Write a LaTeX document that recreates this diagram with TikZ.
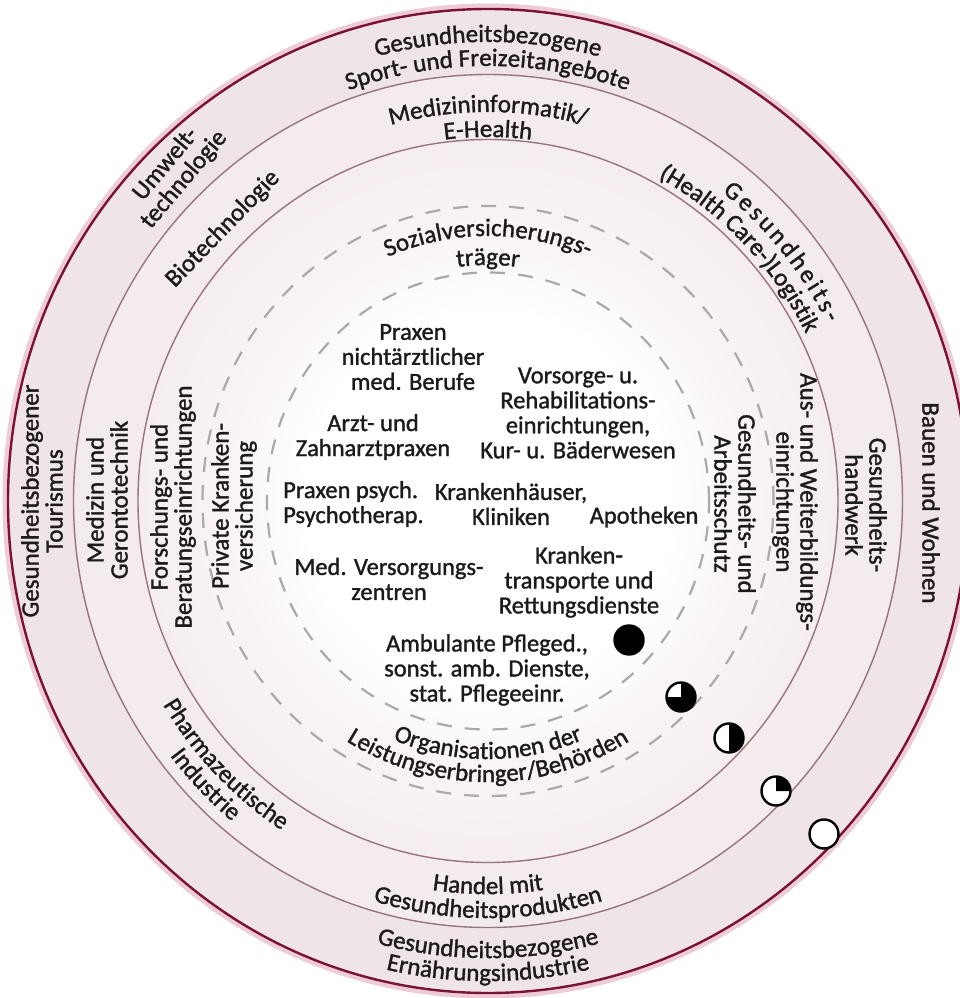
\documentclass[tikz,border=0pt]{standalone}
\usepackage{fontspec}
\setmainfont{Carlito}[FakeBold=1.3]
\usetikzlibrary{decorations.text}

\definecolor{ink}{RGB}{28,26,27}
\definecolor{bandA}{RGB}{239,228,230}
\definecolor{bandB}{RGB}{243,235,236}
\definecolor{bandC}{RGB}{246,238,238}
\definecolor{bandD}{RGB}{249,243,243}
\definecolor{rimred}{RGB}{122,18,52}
\definecolor{rimglow}{RGB}{226,170,185}
\definecolor{ringline}{RGB}{150,118,124}
\definecolor{dashgray}{RGB}{172,168,169}

% white core fading to pale pink towards the third ring
\pgfdeclareradialshading{coreshade}{\pgfpoint{0bp}{0bp}}{color(0bp)=(white); color(13bp)=(white); color(19bp)=(bandD); color(25bp)=(bandC); color(50bp)=(bandC)}

\newcommand\ringfont{\fontsize{25}{24}\selectfont}
\newcommand\corefont{\fontsize{24.5}{25}\selectfont}

% text running clockwise along an ellipse arc: radius, middle angle, text
\newcommand\overarc[3]{%
  \path[decorate,decoration={text along path,text align=center,
    text={|\ringfont\color{ink}|#3}}]
    ({#2+75}:{0.97*#1} and {#1}) arc[start angle={#2+75},end angle={#2-75},x radius={0.97*#1},y radius={#1}];}
% text running counterclockwise along an ellipse arc: radius, middle angle, text
\newcommand\underarc[3]{%
  \path[decorate,decoration={text along path,text align=center,
    text={|\ringfont\color{ink}|#3}}]
    ({#2-75}:{0.97*#1} and {#1}) arc[start angle={#2-75},end angle={#2+75},x radius={0.97*#1},y radius={#1}];}
% text spread over a given clockwise arc: radius, start angle, end angle, text
\newcommand\spreadarc[4]{%
  \path[decorate,decoration={text along path,text align={fit to path},
    text={|\ringfont\color{ink}|#4}}]
    (#2:{0.97*#1} and {#1}) arc[start angle=#2,end angle=#3,x radius={0.97*#1},y radius={#1}];}

\tikzset{
  core/.style={font=\corefont, text=ink, align=center, inner sep=0pt},
  ringlbl/.style={font=\ringfont, text=ink, align=center, inner sep=0pt},
  symb/.style={circle, draw=black, line width=2.4pt, minimum size=29pt, inner sep=0pt},
  midline/.style={draw=ringline, line width=1.4pt},
  dashring/.style={draw=dashgray, line width=2.2pt, dash pattern=on 15pt off 13pt}
}

\begin{document}
\begin{tikzpicture}[x=1pt,y=1pt]
\useasboundingbox (-488,-497) rectangle (471,501);
\fill[white] (-488,-497) rectangle (471,501);

% ring fills
\fill[bandA] (0,0) ellipse[x radius=480,y radius=492];
\fill[bandB] (0,0) ellipse[x radius=414.5,y radius=426.5];
\shade[shading=coreshade] (0,0) ellipse[x radius=350,y radius=361.5];

% ring borders
\draw[rimglow, line width=5pt, opacity=.6] (0,0) ellipse[x radius=483,y radius=495];
\draw[rimred, line width=2.4pt] (0,0) ellipse[x radius=480,y radius=492];
\draw[midline] (0,0) ellipse[x radius=414.5,y radius=426.5];
\draw[midline] (0,0) ellipse[x radius=350,y radius=361.5];
\draw[dashring] (0,0) ellipse[x radius=285.5,y radius=295];
\draw[dashring] (0,0) ellipse[x radius=221,y radius=228.5];

% curved ring labels
\overarc{459}{90}{Gesundheitsbezogene}
\overarc{435}{90}{Sport- und Freizeitangebote}
\overarc{389}{90}{Medizininformatik/}
\overarc{364}{90}{E-Health}
\overarc{265}{90}{Sozialversicherungs-}
\overarc{236}{90}{träger}
\spreadarc{392}{52}{27}{Gesundheits-}
\overarc{368}{45}{(Health Care-)Logistik}
\underarc{258}{270}{Organisationen der}
\underarc{281}{270}{Leistungserbringer/Behörden}
\underarc{393}{270}{Handel mit}
\underarc{417}{270}{Gesundheitsprodukten}
\underarc{457}{270}{Gesundheitsbezogene}
\underarc{480}{270}{Ernährungsindustrie}
\underarc{392}{225}{Pharmazeutische}
\underarc{415}{225}{Industrie}

% straight ring labels
\node[ringlbl, rotate=50] (umwelt) at (-313,329) {Umwelt-\\technologie};
\node[ringlbl, rotate=46] (biotech) at (-265,272) {Biotechnologie};
\node[ringlbl, rotate=90] (tourism) at (-446,0) {Gesundheitsbezogener\\Tourismus};
\node[ringlbl, rotate=-90] (wohnen) at (443,-2) {Bauen und Wohnen};
\node[ringlbl, rotate=90] (geronto) at (-381,1) {Medizin und\\Gerontotechnik};
\node[ringlbl, rotate=-90] (handwerk) at (378,-4) {Gesundheits-\\handwerk};
\node[ringlbl, rotate=90] (forschung) at (-315,-6) {Forschungs- und\\Beratungseinrichtungen};
\node[ringlbl, rotate=-90] (bildung) at (307,-1) {Aus- und Weiterbildungs-\\einrichtungen};
\node[ringlbl, rotate=90] (privat) at (-254,-5) {Private Kranken-\\versicherung};
\node[ringlbl, rotate=-90] (schutz) at (247,-3) {Gesundheits- und\\Arbeitsschutz};

% core labels
\node[core] (nichtarzt) at (-75,144) {Praxen\\nichtärztlicher\\med. Berufe};
\node[core] (reha) at (90,88) {Vorsorge- u.\\Rehabilitations-\\einrichtungen,\\Kur- u. Bäderwesen};
\node[core] (zahn) at (-115,64) {Arzt- und\\Zahnarztpraxen};
\node[core, align=left, anchor=west] (psych) at (-205,-3) {Praxen psych.\\Psychotherap.};
\node[core] (klinik) at (23,-3) {Krankenhäuser,\\Kliniken};
\node[core] (apo) at (156,-16) {Apotheken};
\node[core] (mvz) at (-99,-78) {Med. Versorgungs-\\zentren};
\node[core] (rettung) at (91,-81) {Kranken-\\transporte und\\Rettungsdienste};
\node[core] (pflege) at (-1,-169) {Ambulante Pfleged.,\\sonst. amb. Dienste,\\stat. Pflegeeinr.};

% level markers: full, three quarters, half, quarter, empty
\coordinate (p1) at (141,-139);
\coordinate (p2) at (193,-196);
\coordinate (p3) at (241,-237);
\coordinate (p4) at (288,-290);
\coordinate (p5) at (336,-333);
\node[symb, fill=black] (sym1) at (p1) {};
\node[symb, fill=white] (sym2) at (p2) {};
\fill[black] (p2) -- ++(0,14.5) arc[start angle=90,end angle=-180,radius=14.5] -- cycle;
\node[symb, fill=white] (sym3) at (p3) {};
\fill[black] (p3) -- ++(0,14.5) arc[start angle=90,end angle=-90,radius=14.5] -- cycle;
\node[symb, fill=white] (sym4) at (p4) {};
\fill[black] (p4) -- ++(0,14.5) arc[start angle=90,end angle=0,radius=14.5] -- cycle;
\node[symb, fill=white] (sym5) at (p5) {};
\end{tikzpicture}
\end{document}
